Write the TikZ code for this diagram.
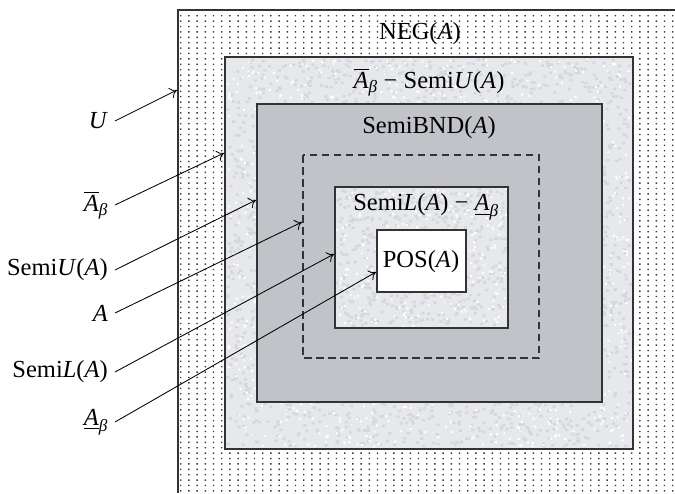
\documentclass[tikz,border=0pt]{standalone}
\usepackage{fontspec}
\setmainfont{Liberation Serif}
\usepackage{amsmath}
\usetikzlibrary{arrows.meta}
\definecolor{dotc}{HTML}{3A3A3A}
\definecolor{speck}{HTML}{E7E8EB}
\definecolor{speckdark}{HTML}{D4D7DD}
\definecolor{midgray}{HTML}{C1C3C9}
\definecolor{edgec}{HTML}{333333}
\begin{document}
\begin{tikzpicture}[x=1pt,y=-1pt,
  box/.style={draw=edgec,line width=1.1pt},
  lbl/.style={font=\fontsize{24.5}{28}\selectfont, inner sep=0pt},
  side/.style={lbl, anchor=east, inner xsep=7pt},
  arr/.style={draw=black,line width=0.85pt,-{To[length=7pt,width=11pt]}}]
\useasboundingbox (0,0) rectangle (675,493);
\pgfmathsetseed{7}
% dotted universe
\fill[dotc] foreach \i in {0,...,60} { foreach \j in {0,...,88} { ({180+\i*8.2},{15+\j*5.4}) rectangle ++(1.4,1.4) } };
\draw[edgec,line width=1.1pt] (178,493) -- (178,10) -- (675,10);
% outer speckled region
\fill[speck] (225,57) rectangle (633,449);
\fill[speckdark] foreach \k in {1,...,2600} { ({226+403*rnd},{58+387*rnd}) rectangle ++(3,2.5) };
\fill[white] foreach \k in {1,...,1200} { ({226+404*rnd},{58+388*rnd}) rectangle ++(2,2) };
\draw[box] (225,57) rectangle (633,449);
% boundary region
\filldraw[box,fill=midgray] (257,104) rectangle (602,402);
\draw[edgec,line width=1.1pt,dash pattern=on 7.5pt off 4.5pt] (303,155) rectangle (539,358);
% inner speckled region
\fill[speck] (335,187) rectangle (508,328);
\fill[speckdark] foreach \k in {1,...,500} { ({336+169*rnd},{188+137*rnd}) rectangle ++(3,2.5) };
\fill[white] foreach \k in {1,...,250} { ({336+170*rnd},{188+138*rnd}) rectangle ++(2,2) };
\draw[box] (335,187) rectangle (508,328);
\filldraw[box,fill=white] (377,230) rectangle (466,292);
% region texts
\node[lbl] (neg) at (420,34) {NEG(\textit{A})};
\node[lbl] (upr) at (429,82) {$\overline{\text{\itshape A}}_{\text{\itshape β}}$ − Semi\textit{U}(\textit{A})};
\node[lbl] (bnd) at (429,128) {SemiBND(\textit{A})};
\node[lbl] (low) at (426,207) {Semi\textit{L}(\textit{A}) − $\underline{\text{\itshape A}}_{\text{\itshape β}}$};
\node[lbl] (pos) at (421,262) {POS(\textit{A})};
% side labels
\node[side] (lu) at (115,121) {\textit{U}};
\node[side] (lab) at (115,205) {$\overline{\text{\itshape A}}_{\text{\itshape β}}$};
\node[side] (lsu) at (115,270) {Semi\textit{U}(\textit{A})};
\node[side] (la) at (115,313) {\textit{A}};
\node[side] (lsl) at (115,372) {Semi\textit{L}(\textit{A})};
\node[side] (lal) at (115,422) {$\underline{\text{\itshape A}}_{\text{\itshape β}}$};
% arrow targets
\coordinate (tu) at (177,90);
\coordinate (tab) at (224,153);
\coordinate (tsu) at (256,200);
\coordinate (ta) at (302,222);
\coordinate (tsl) at (334,254);
\coordinate (tal) at (376,272);
\draw[arr] (lu.east) -- (tu);
\draw[arr] (lab.east) -- (tab);
\draw[arr] (lsu.east) -- (tsu);
\draw[arr] (la.east) -- (ta);
\draw[arr] (lsl.east) -- (tsl);
\draw[arr] (lal.east) -- (tal);
\end{tikzpicture}
\end{document}
